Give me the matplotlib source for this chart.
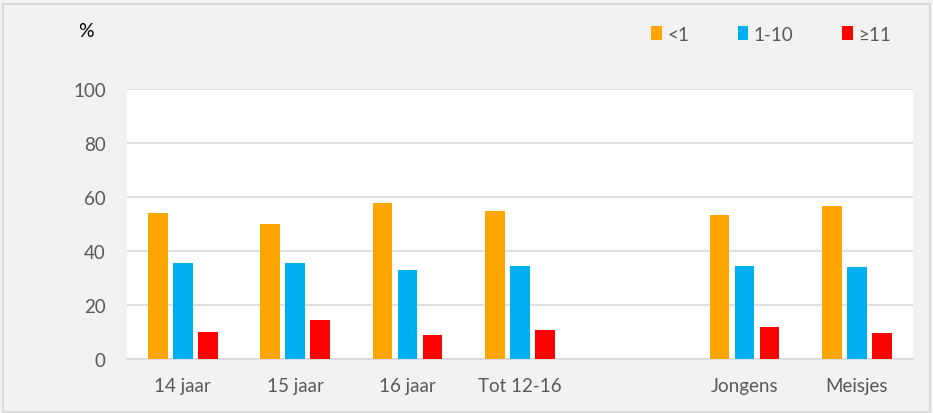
import numpy as np
import matplotlib.pyplot as plt
from matplotlib.patches import Rectangle

# === Data ===
categories = ["14 jaar", "15 jaar", "16 jaar", "Tot 12-16", "", "Jongens", "Meisjes"]
series_names = ["<1", "1-10", "≥11"]
lt1 = [54.0, 50.0, 57.7, 54.8, np.nan, 53.5, 56.5]
r1_10 = [35.7, 35.4, 33.1, 34.3, np.nan, 34.6, 34.1]
ge11 = [10.0, 14.3, 8.8, 10.6, np.nan, 11.7, 9.5]
colors = ["#FFA500", "#00B0F0", "#FF0000"]

plt.rcParams['font.family'] = ['Lato', 'DejaVu Sans']

# === Plotting ===
fig = plt.figure(figsize=(9.33, 4.14), dpi=100)
fig.patch.set_facecolor("#F2F2F2")
fig.patches.append(Rectangle((0.003, 0.003), 0.994, 0.985, transform=fig.transFigure,
                             fill=False, edgecolor="#D9D9D9", linewidth=1.5))

ax = fig.add_axes([0.1358, 0.1304, 0.8428, 0.6522])
ax.set_facecolor("white")

x = np.arange(len(categories))
w = 0.174
step = 0.223
for i, (vals, c, name) in enumerate(zip([lt1, r1_10, ge11], colors, series_names)):
    ax.bar(x + (i - 1) * step, vals, width=w, color=c, label=name, zorder=3)

ax.set_xlim(-0.5, len(categories) - 0.5)
ax.set_ylim(0, 100)
ax.set_yticks(range(0, 101, 20))
ax.set_xticks(x)
ax.set_xticklabels(categories)
ax.grid(axis='y', color="#D9D9D9", linewidth=1.2, zorder=0)
for s in ["top", "left", "right"]:
    ax.spines[s].set_visible(False)
ax.spines["bottom"].set_color("#D9D9D9")
ax.spines["bottom"].set_linewidth(1.2)
ax.tick_params(axis='both', length=0, labelsize=13.5, colors="#595959")
ax.tick_params(axis='y', pad=15)
ax.tick_params(axis='x', pad=13)

fig.text(0.092, 0.923, "%", fontsize=14, color="black", ha="center", va="center")

leg = fig.legend(loc="center left", bbox_to_anchor=(0.680, 0.915), ncol=3, frameon=False,
                 fontsize=13.5, handlelength=0.55, handleheight=0.8, handletextpad=0.3,
                 columnspacing=2.6)
for t in leg.get_texts():
    t.set_color("#595959")

plt.savefig("out.png", dpi=100, facecolor=fig.get_facecolor())
